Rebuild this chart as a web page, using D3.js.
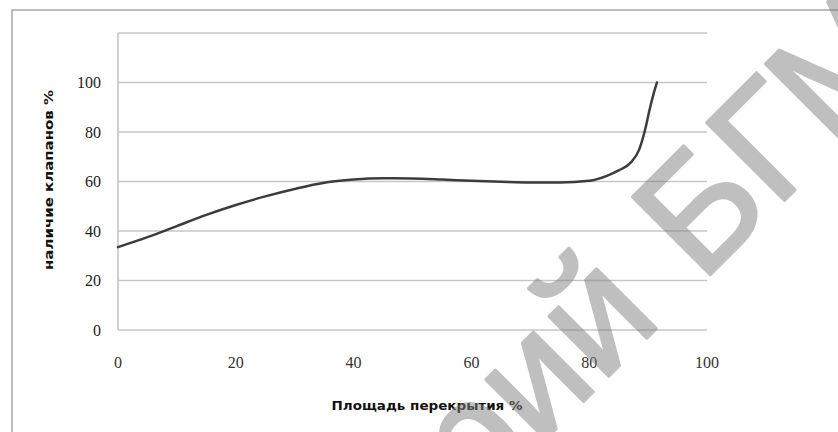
<!DOCTYPE html>
<html>
<head>
<meta charset="utf-8">
<script src="https://cdn.jsdelivr.net/npm/d3@7"></script>
<style>
  html, body { margin: 0; padding: 0; background: #fff; }
  svg { display: block; }
</style>
</head>
<body>
<svg id="chart" width="838" height="432"></svg>
<script>
// ---- data ----
const overlapArea = [0, 5, 10, 15, 20, 25, 30, 35, 40, 45, 50, 55, 60, 65, 70, 75, 80, 83, 85, 87, 88.5, 89.5, 90.2, 91, 91.5];
const valvePresence = [33.5, 37.5, 42, 46.5, 50.5, 54, 57, 59.5, 60.8, 61.3, 61.2, 60.8, 60.3, 59.9, 59.6, 59.6, 60.3, 62.3, 64.5, 67.5, 73, 81, 88.5, 96, 100];
const xTicks = [0, 20, 40, 60, 80, 100];
const yTicks = [0, 20, 40, 60, 80, 100];
const yGrid = [0, 20, 40, 60, 80, 100, 120];
const xTitle = "Площадь перекрытия %";
const yTitle = "наличие клапанов %";
const watermarkHead = "Репозиторий";
const watermarkTail = "БГМУ";

const svg = d3.select("#chart");
const x = d3.scaleLinear().domain([0, 100]).range([118, 707]);
const y = d3.scaleLinear().domain([0, 120]).range([330, 33]);

// outer frame
svg.append("rect")
  .attr("x", 12).attr("y", 10).attr("width", 900).attr("height", 500)
  .attr("fill", "none").attr("stroke", "#a6a6a6").attr("stroke-width", 1.5);

// gridlines
svg.append("g").selectAll("line").data(yGrid).join("line")
  .attr("x1", x(0)).attr("x2", x(100))
  .attr("y1", d => y(d)).attr("y2", d => y(d))
  .attr("stroke", "#c6c6c6").attr("stroke-width", 1.5);

// left axis line
svg.append("line")
  .attr("x1", x(0)).attr("x2", x(0)).attr("y1", y(0)).attr("y2", y(120))
  .attr("stroke", "#c0c0c0").attr("stroke-width", 1.5);

// y tick labels
svg.append("g").selectAll("text").data(yTicks).join("text")
  .attr("x", 101).attr("y", d => y(d))
  .attr("dy", "0.35em")
  .attr("text-anchor", "end")
  .attr("font-family", "Liberation Serif, serif")
  .attr("font-size", 16)
  .attr("fill", "#222")
  .text(d => d);

// x tick labels
svg.append("g").selectAll("text").data(xTicks).join("text")
  .attr("x", d => x(d)).attr("y", 362)
  .attr("dy", "0.35em")
  .attr("text-anchor", "middle")
  .attr("font-family", "Liberation Serif, serif")
  .attr("font-size", 16)
  .attr("fill", "#333")
  .text(d => d);

// axis titles
svg.append("text")
  .attr("x", 427).attr("y", 410)
  .attr("text-anchor", "middle")
  .attr("font-family", "DejaVu Sans, sans-serif")
  .attr("font-weight", "bold")
  .attr("font-size", 13)
  .attr("textLength", 191).attr("lengthAdjust", "spacingAndGlyphs")
  .attr("fill", "#111")
  .text(xTitle);

svg.append("text")
  .attr("transform", "translate(53,180) rotate(-90)")
  .attr("text-anchor", "middle")
  .attr("font-family", "DejaVu Sans, sans-serif")
  .attr("font-weight", "bold")
  .attr("font-size", 13)
  .attr("textLength", 180).attr("lengthAdjust", "spacingAndGlyphs")
  .attr("fill", "#111")
  .text(yTitle);

// curve
const pts = overlapArea.map((v, i) => [v, valvePresence[i]]);
const line = d3.line().x(d => x(d[0])).y(d => y(d[1])).curve(d3.curveMonotoneX);
svg.append("path")
  .datum(pts)
  .attr("d", line)
  .attr("fill", "none")
  .attr("stroke", "#3c3c3c")
  .attr("stroke-width", 2.5)
  .attr("stroke-linecap", "round");

// watermark
const wm = svg.append("g")
  .attr("opacity", 0.5)
  .attr("transform", "translate(701,284) rotate(-45)");
const wmStyle = s => s
  .attr("font-family", "Liberation Sans, Arial, sans-serif")
  .attr("font-size", 160)
  .attr("fill", "#808080")
  .attr("stroke", "#808080")
  .attr("stroke-width", 3)
  .attr("stroke-linejoin", "round");
wm.append("text").attr("x", 0).attr("y", 0).attr("text-anchor", "start").call(wmStyle).text(watermarkTail);
wm.append("text").attr("x", -52).attr("y", 0).attr("text-anchor", "end").call(wmStyle).text(watermarkHead);
</script>
</body>
</html>
